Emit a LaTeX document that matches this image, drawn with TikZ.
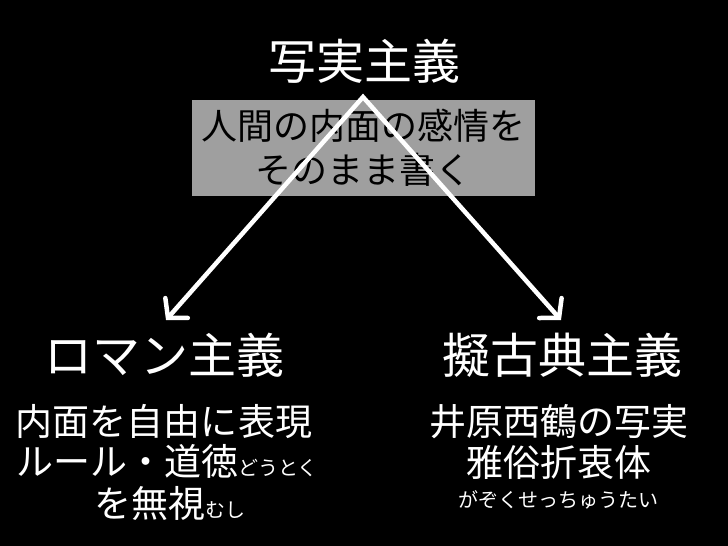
\documentclass[tikz,border=0pt]{standalone}
\usepackage{fontspec}
\setmainfont{Noto Sans CJK JP}
\usetikzlibrary{arrows.meta}
\tikzset{
  big/.style={text=white, inner sep=0pt, font=\fontsize{48}{56}\selectfont},
  body/.style={text=white, inner sep=0pt, font=\fontsize{37}{44}\selectfont},
  smalltxt/.style={text=white, inner sep=0pt, font=\fontsize{20}{24}\selectfont},
  graybox/.style={fill=gray!75, inner sep=0pt, text=black, align=center, font=\fontsize{36}{44}\selectfont, minimum width=343pt, minimum height=96pt},
  conn/.style={white, line width=4.5pt, line join=miter, {Straight Barb[length=13pt,width=30pt,line cap=round]}-{Straight Barb[length=13pt,width=30pt,line cap=round]}}
}
\newcommand{\sm}[1]{{\fontsize{20}{24}\selectfont #1}}
\begin{document}
\begin{tikzpicture}[x=1pt,y=-1pt]
\fill[black] (0,0) rectangle (728,546);
\useasboundingbox (0,0) rectangle (728,546);
\node[big] (title) at (364,61) {写実主義};
\node[graybox] (desc) at (363.5,148) {人間の内面の感情を\\そのまま書く};
\coordinate (apex) at (363,97);
\coordinate (ltip) at (166,320);
\coordinate (rtip) at (561,320);
\draw[conn] (ltip) -- (apex) -- (rtip);
\node[big] (roman) at (164,355) {ロマン主義};
\node[big] (giko) at (562,355) {擬古典主義};
\node[body] (l1) at (164,422) {内面を自由に表現};
\node[body, anchor=base] (l2) at (167,475) {ルール・道徳\sm{どうとく}};
\node[body, anchor=base] (l3) at (170,517) {を無視\sm{むし}};
\node[body] (r1) at (559,422) {井原西鶴の写実};
\node[body] (r2) at (559,462) {雅俗折衷体};
\node[smalltxt] (r3) at (558,500) {がぞくせっちゅうたい};
\end{tikzpicture}
\end{document}
